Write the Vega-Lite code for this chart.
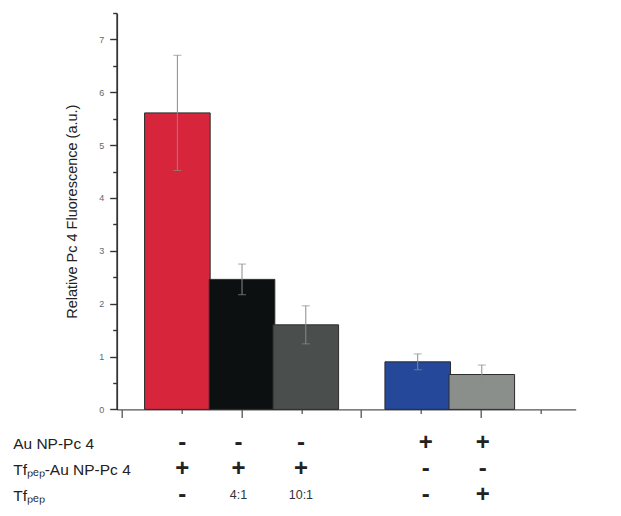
{
  "$schema": "https://vega.github.io/schema/vega-lite/v6.json",
  "autosize": {"type": "pad"},
  "padding": {"left": 12.7, "top": 12, "right": 5, "bottom": 5},
  "config": {"view": {"stroke": null}, "font": "Liberation Sans"},
  "spacing": 11,
  "datasets": {
    "bars": [
      {"group": "Tfpep-Au NP-Pc 4", "pos": 0.93, "value": 5.61, "err": 1.09},
      {"group": "Tfpep-Au NP-Pc 4 + Tfpep 4:1", "pos": 2.01, "value": 2.46, "err": 0.29},
      {"group": "Tfpep-Au NP-Pc 4 + Tfpep 10:1", "pos": 3.075, "value": 1.6, "err": 0.36},
      {"group": "Au NP-Pc 4", "pos": 4.945, "value": 0.9, "err": 0.15},
      {"group": "Au NP-Pc 4 + Tfpep", "pos": 6.015, "value": 0.66, "err": 0.18}
    ],
    "table": [
      {"col": 1.07, "row": "Au NP-Pc 4", "sym": "-"},
      {"col": 1.99, "row": "Au NP-Pc 4", "sym": "-"},
      {"col": 3.01, "row": "Au NP-Pc 4", "sym": "-"},
      {"col": 5.05, "row": "Au NP-Pc 4", "sym": "+"},
      {"col": 5.98, "row": "Au NP-Pc 4", "sym": "+"},
      {"col": 1.07, "row": "Tfₚₑₚ-Au NP-Pc 4", "sym": "+"},
      {"col": 1.99, "row": "Tfₚₑₚ-Au NP-Pc 4", "sym": "+"},
      {"col": 3.01, "row": "Tfₚₑₚ-Au NP-Pc 4", "sym": "+"},
      {"col": 5.05, "row": "Tfₚₑₚ-Au NP-Pc 4", "sym": "-"},
      {"col": 5.98, "row": "Tfₚₑₚ-Au NP-Pc 4", "sym": "-"},
      {"col": 1.07, "row": "Tfₚₑₚ", "sym": "-"},
      {"col": 1.99, "row": "Tfₚₑₚ", "sym": "4:1"},
      {"col": 3.01, "row": "Tfₚₑₚ", "sym": "10:1"},
      {"col": 5.05, "row": "Tfₚₑₚ", "sym": "-"},
      {"col": 5.98, "row": "Tfₚₑₚ", "sym": "+"}
    ]
  },
  "vconcat": [
    {
      "width": 459,
      "height": 396.4,
      "data": {"name": "bars"},
      "encoding": {
        "x": {
          "field": "pos", "type": "quantitative",
          "scale": {"domain": [0, 7.5], "nice": false, "zero": false},
          "axis": {
            "values": [0, 1, 2, 3, 4, 5, 6, 7], "labels": false, "title": null, "grid": false,
            "domainColor": "#555", "domainWidth": 1.3, "tickColor": "#555", "tickWidth": 1.3,
            "tickSize": {"condition": {"test": "datum.value % 2 === 0", "value": 8}, "value": 4}
          }
        },
        "y": {
          "field": "value", "type": "quantitative",
          "scale": {"domain": [0, 7.5], "nice": false},
          "axis": {
            "values": [0, 0.5, 1, 1.5, 2, 2.5, 3, 3.5, 4, 4.5, 5, 5.5, 6, 6.5, 7, 7.5],
            "labelExpr": "datum.value % 1 === 0 ? format(datum.value, 'd') : ''",
            "tickSize": {"condition": {"test": "datum.value % 1 === 0", "value": 7}, "value": 4},
            "labelFontSize": 9, "labelColor": "#666", "labelPadding": 6,
            "domainColor": "#333", "domainWidth": 1.8, "tickColor": "#333", "tickWidth": 1.4,
            "grid": false,
            "title": "Relative Pc 4 Fluorescence (a.u.)",
            "titleFontSize": 14.5, "titleFontWeight": "normal", "titleColor": "#222", "titlePadding": 19
          }
        }
      },
      "layer": [
        {
          "mark": {"type": "bar", "width": 65.6, "stroke": "#2b2b2b", "strokeWidth": 1},
          "encoding": {
            "color": {
              "field": "group", "type": "nominal", "legend": null,
              "scale": {
                "domain": ["Tfpep-Au NP-Pc 4", "Tfpep-Au NP-Pc 4 + Tfpep 4:1", "Tfpep-Au NP-Pc 4 + Tfpep 10:1", "Au NP-Pc 4", "Au NP-Pc 4 + Tfpep"],
                "range": ["#d7253b", "#0d1011", "#4a4f4d", "#25489b", "#8b8f8c"]
              }
            }
          }
        },
        {
          "mark": {"type": "errorbar", "color": "#8a8a8a", "thickness": 1, "ticks": {"size": 8}},
          "encoding": {"yError": {"field": "err"}}
        }
      ]
    },
    {
      "width": 459,
      "height": 78.6,
      "data": {"name": "table"},
      "encoding": {
        "x": {"field": "col", "type": "quantitative", "scale": {"domain": [0, 7.5], "nice": false, "zero": false}, "axis": null},
        "y": {
          "field": "row", "type": "nominal",
          "sort": ["Au NP-Pc 4", "Tfₚₑₚ-Au NP-Pc 4", "Tfₚₑₚ"],
          "scale": {"paddingInner": 0, "paddingOuter": 0},
          "axis": {"title": null, "domain": false, "ticks": false, "tickSize": 0, "labelAlign": "left", "labelPadding": 104, "labelFontSize": 15.5, "labelColor": "#222", "labelBaseline": "middle"}
        },
        "text": {"field": "sym"}
      },
      "layer": [
        {
          "transform": [{"filter": "datum.sym === '+' || datum.sym === '-'"}],
          "mark": {"type": "text", "fontSize": 24, "fontWeight": "bold", "color": "#222", "baseline": "middle"}
        },
        {
          "transform": [{"filter": "datum.sym !== '+' && datum.sym !== '-'"}],
          "mark": {"type": "text", "fontSize": 12.5, "color": "#333", "baseline": "middle"}
        }
      ]
    }
  ]
}
